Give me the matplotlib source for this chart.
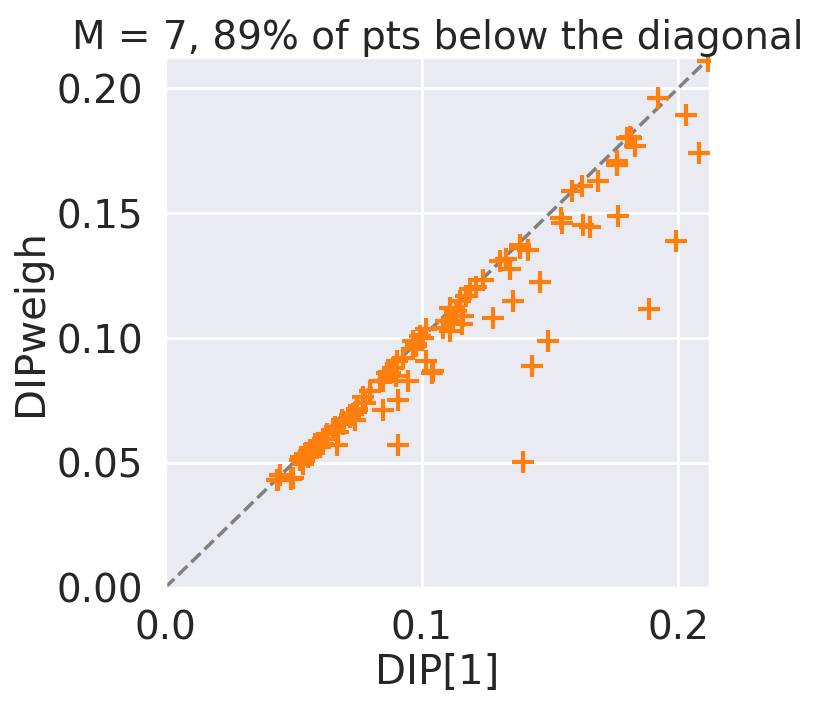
import numpy as np
import matplotlib
matplotlib.use("Agg")
import matplotlib.pyplot as plt
import seaborn as sns

# DIP[1] (x) vs DIPweigh (y)
dip1 = [
    0.0435, 0.0448, 0.0441, 0.0493, 0.0500, 0.0532, 0.0545, 0.0539, 0.0526, 0.0558,
    0.0565, 0.0578, 0.0584, 0.0591, 0.0604, 0.0617, 0.0617, 0.0630, 0.0669, 0.0662,
    0.0655, 0.0675, 0.0688, 0.0694, 0.0721, 0.0721, 0.0733, 0.0740, 0.0747, 0.0747,
    0.0772, 0.0780, 0.0799, 0.0838, 0.0850, 0.0850, 0.0864, 0.0877, 0.0889, 0.0902,
    0.0903, 0.0909, 0.0909, 0.0928, 0.0948, 0.0967, 0.0967, 0.0980, 0.0980, 0.0993,
    0.1006, 0.1019, 0.1019, 0.1039, 0.1045, 0.1084, 0.1097, 0.1110, 0.1110, 0.1123,
    0.1136, 0.1149, 0.1156, 0.1162, 0.1175, 0.1188, 0.1214, 0.1240, 0.1279, 0.1305,
    0.1331, 0.1344, 0.1357, 0.1383, 0.1383, 0.1416, 0.1396, 0.1429, 0.1460, 0.1493,
    0.1543, 0.1546, 0.1585, 0.1624, 0.1630, 0.1656, 0.1686, 0.1760, 0.1760, 0.1766,
    0.1799, 0.1812, 0.1818, 0.1831, 0.1886, 0.1922, 0.1990, 0.2029, 0.2082, 0.2118,
]
dipweigh = [
    0.0430, 0.0450, 0.0430, 0.0437, 0.0440, 0.0523, 0.0537, 0.0497, 0.0510, 0.0523,
    0.0550, 0.0545, 0.0577, 0.0565, 0.0563, 0.0597, 0.0577, 0.0617, 0.0570, 0.0643,
    0.0630, 0.0623, 0.0670, 0.0657, 0.0683, 0.0690, 0.0697, 0.0670, 0.0717, 0.0710,
    0.0763, 0.0740, 0.0789, 0.0829, 0.0710, 0.0829, 0.0862, 0.0862, 0.0882, 0.0849,
    0.0909, 0.0750, 0.0570, 0.0922, 0.0829, 0.0989, 0.0956, 0.0969, 0.0975, 0.1009,
    0.1000, 0.1035, 0.0909, 0.0862, 0.0870, 0.1042, 0.1069, 0.1029, 0.1122, 0.1069,
    0.1108, 0.1148, 0.1055, 0.1089, 0.1168, 0.1195, 0.1205, 0.1232, 0.1079, 0.1308,
    0.1315, 0.1275, 0.1148, 0.1374, 0.1360, 0.1352, 0.0504, 0.0889, 0.1224, 0.0989,
    0.1480, 0.1460, 0.1587, 0.1607, 0.1454, 0.1443, 0.1627, 0.1710, 0.1693, 0.1487,
    0.1800, 0.1805, 0.1802, 0.1769, 0.1118, 0.1959, 0.1390, 0.1893, 0.1740, 0.2110,
]

x = np.array(dip1)
y = np.array(dipweigh)

sns.set_theme(style="darkgrid", context="poster")
plt.rcParams.update({
    "xtick.labelsize": 28,
    "ytick.labelsize": 28,
    "axes.labelsize": 29,
    "axes.titlesize": 28,
})

fig = plt.figure(figsize=(8.21, 7.04), dpi=100)
ax = fig.add_axes([0.201, 0.165, 0.664, 0.754])

lim = 0.2125
ax.plot([0, lim], [0, lim], color="grey", linestyle="--", linewidth=2.5, zorder=2)
ax.scatter(x, y, marker="+", color="#ff7f0e", s=240, linewidths=3, zorder=3)

ax.set_xlim(0, lim)
ax.set_ylim(0, lim)
ax.set_xticks([0.0, 0.1, 0.2])
ax.set_xticklabels(["0.0", "0.1", "0.2"])
ax.set_yticks([0.0, 0.05, 0.10, 0.15, 0.20])
ax.set_yticklabels(["0.00", "0.05", "0.10", "0.15", "0.20"])
ax.set_xlabel("DIP[1]")
ax.set_ylabel("DIPweigh")
ax.set_title("M = 7, 89% of pts below the diagonal")

fig.savefig("out.png", dpi=100)
